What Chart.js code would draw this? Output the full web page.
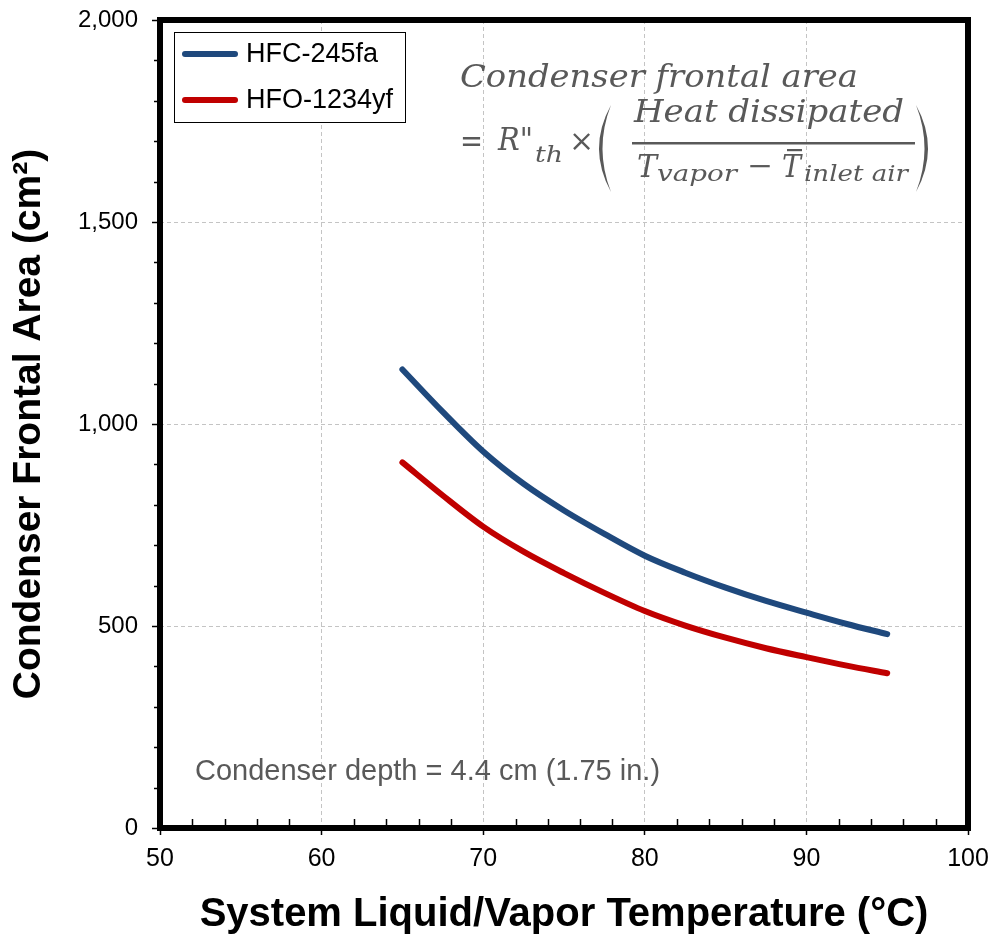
<!DOCTYPE html>
<html>
<head>
<meta charset="utf-8">
<script src="https://cdn.jsdelivr.net/npm/chart.js@4"></script>
<style>
  html, body { margin: 0; padding: 0; background: #fff; }
  #wrap { width: 992px; height: 940px; }
</style>
</head>
<body>
<div id="wrap"><canvas id="grafica" width="992" height="940"></canvas></div>
<script>
// datos
const temperaturas = [65, 67.5, 70, 72.5, 75, 77.5, 80, 82.5, 85, 87.5, 90, 92.5, 95];
const hfc245fa = [1135, 1030, 932, 852, 786, 728, 674, 632, 595, 562, 533, 505, 480];
const hfo1234yf = [905, 823, 746, 684, 631, 582, 537, 501, 471, 445, 423, 402, 383];
const series = ['HFC-245fa', 'HFO-1234yf'];
const colores = ['#1F497D', '#C00000'];
const ticksX = [50, 60, 70, 80, 90, 100];
const ticksY = [0, 500, 1000, 1500, 2000];

const gris = '#595959';
const serif = '"DejaVu Serif", "Liberation Serif", serif';

// texto ajustado a un ancho dado (escala horizontal)
function textoAjustado(c, txt, x, y, ancho, font) {
  c.font = font;
  const w = c.measureText(txt).width;
  c.save();
  c.translate(x, y);
  c.scale(ancho / w, 1);
  c.fillText(txt, 0, 0);
  c.restore();
}

// parentesis grande como media luna
function parentesis(c, x0, y0, y1, izq) {
  const m = (y0 + y1) / 2;
  const d = izq ? -1 : 1;
  c.beginPath();
  c.moveTo(x0, y0);
  c.quadraticCurveTo(x0 + d * 24, m, x0, y1);
  c.quadraticCurveTo(x0 + d * 17, m, x0, y0);
  c.fill();
}

// sin relleno extra de las escalas: el area la fija layout.padding
function sinRelleno(s) {
  s.paddingTop = 0;
  s.paddingBottom = 0;
  s.paddingLeft = 0;
  s.paddingRight = 0;
}

// marco negro, ticks menores, leyenda y textos
const extras = {
  id: 'extras',
  afterDraw(chart) {
    const c = chart.ctx;
    const a = chart.chartArea;
    const sx = chart.scales.x;
    const sy = chart.scales.y;
    c.save();

    // ticks menores
    c.strokeStyle = '#000';
    c.lineWidth = 1.5;
    for (let v = 52; v < 100; v += 2) {
      if (v % 10 === 0) continue;
      const px = Math.round(sx.getPixelForValue(v)) + 0.5;
      c.beginPath(); c.moveTo(px, a.bottom); c.lineTo(px, a.bottom - 9); c.stroke();
    }
    for (let v = 100; v < 2000; v += 100) {
      if (v % 500 === 0) continue;
      const py = Math.round(sy.getPixelForValue(v)) + 0.5;
      c.beginPath(); c.moveTo(a.left, py); c.lineTo(a.left - 6, py); c.stroke();
    }

    // marco
    c.lineWidth = 6;
    c.strokeRect(a.left, a.top, a.right - a.left, a.bottom - a.top);

    // leyenda
    c.lineWidth = 1;
    c.strokeStyle = '#000';
    c.fillStyle = '#fff';
    c.fillRect(174.5, 32.5, 231, 90);
    c.strokeRect(174.5, 32.5, 231, 90);
    c.font = '27px "Liberation Sans", Arial, sans-serif';
    c.textBaseline = 'middle';
    c.textAlign = 'left';
    series.forEach((s, i) => {
      const y = 54 + i * 46;
      c.strokeStyle = colores[i];
      c.lineWidth = 6;
      c.lineCap = 'round';
      c.beginPath(); c.moveTo(185, y); c.lineTo(235, y); c.stroke();
      c.fillStyle = '#000';
      c.fillText(s, 246, y + 1);
    });

    // ecuacion
    c.fillStyle = gris;
    c.strokeStyle = gris;
    c.textBaseline = 'alphabetic';
    const it = sz => 'italic ' + sz + 'px ' + serif;
    const rg = sz => sz + 'px ' + serif;
    textoAjustado(c, 'Condenser frontal area', 460, 87, 398, it(32));
    textoAjustado(c, '=', 460, 152, 23, rg(32));
    textoAjustado(c, 'R"', 498, 150, 35, it(32));
    textoAjustado(c, 'th', 535, 162, 28, it(23));
    c.font = rg(30);
    c.fillText('\u00d7', 569, 151);
    parentesis(c, 611, 105, 192, true);
    textoAjustado(c, 'Heat dissipated', 634, 122, 270, it(32));
    c.fillRect(632, 142, 283, 2.5);
    textoAjustado(c, 'T', 637, 177, 20, it(32));
    textoAjustado(c, 'vapor', 657, 181, 80, it(23));
    textoAjustado(c, '\u2212', 747, 175, 26, rg(28));
    textoAjustado(c, 'T', 782, 177, 19, it(32));
    c.fillRect(787, 149, 15, 2.2);
    textoAjustado(c, 'inlet air', 804, 181, 104, it(23));
    parentesis(c, 916, 105, 192, false);

    // profundidad
    c.font = '29px "Liberation Sans", Arial, sans-serif';
    c.textBaseline = 'middle';
    c.fillStyle = gris;
    c.fillText('Condenser depth = 4.4 cm (1.75 in.)', 195, 772);

    c.restore();
  }
};

const grafica = new Chart(document.getElementById('grafica').getContext('2d'), {
  type: 'line',
  data: {
    datasets: [
      {
        label: series[0],
        data: temperaturas.map((t, i) => ({ x: t, y: hfc245fa[i] })),
        borderColor: colores[0],
        borderWidth: 6,
        pointRadius: 0,
        cubicInterpolationMode: 'monotone',
        borderCapStyle: 'round',
        fill: false
      },
      {
        label: series[1],
        data: temperaturas.map((t, i) => ({ x: t, y: hfo1234yf[i] })),
        borderColor: colores[1],
        borderWidth: 6,
        pointRadius: 0,
        cubicInterpolationMode: 'monotone',
        borderCapStyle: 'round',
        fill: false
      }
    ]
  },
  options: {
    responsive: false,
    animation: false,
    layout: { padding: { top: 20, right: 24, left: 0, bottom: 0 } },
    plugins: {
      legend: { display: false },
      tooltip: { enabled: false }
    },
    scales: {
      x: {
        type: 'linear',
        min: 50,
        max: 100,
        afterFit: s => { s.height = 112; sinRelleno(s); },
        afterBuildTicks: s => { s.ticks = ticksX.map(v => ({ value: v })); },
        grid: {
          color: '#c4c4c4',
          lineWidth: 1,
          drawTicks: true,
          tickLength: 7,
          tickColor: '#000',
          tickWidth: 1.5
        },
        border: { display: false, dash: [4, 3] },
        ticks: {
          color: '#000',
          padding: 9,
          font: { family: '"Liberation Sans", Arial, sans-serif', size: 25 }
        },
        title: {
          display: true,
          text: 'System Liquid/Vapor Temperature (\u00b0C)',
          color: '#000',
          font: { family: '"Liberation Sans", Arial, sans-serif', size: 40, weight: 'bold' },
          padding: { top: 0, bottom: 1 }
        }
      },
      y: {
        type: 'linear',
        min: 0,
        max: 2000,
        afterFit: s => { s.width = 160; sinRelleno(s); },
        afterBuildTicks: s => { s.ticks = ticksY.map(v => ({ value: v })); },
        grid: {
          color: '#c4c4c4',
          lineWidth: 1,
          drawTicks: true,
          tickLength: 8,
          tickColor: '#000',
          tickWidth: 1.5
        },
        border: { display: false, dash: [4, 3] },
        ticks: {
          color: '#000',
          padding: 14,
          font: { family: '"Liberation Sans", Arial, sans-serif', size: 24 },
          callback: v => v.toLocaleString('en-US')
        },
        title: {
          display: true,
          text: 'Condenser Frontal Area (cm\u00b2)',
          color: '#000',
          font: { family: '"Liberation Sans", Arial, sans-serif', size: 39, weight: 'bold' },
          padding: { top: 6, bottom: 0 }
        }
      }
    }
  },
  plugins: [extras]
});
</script>
</body>
</html>
